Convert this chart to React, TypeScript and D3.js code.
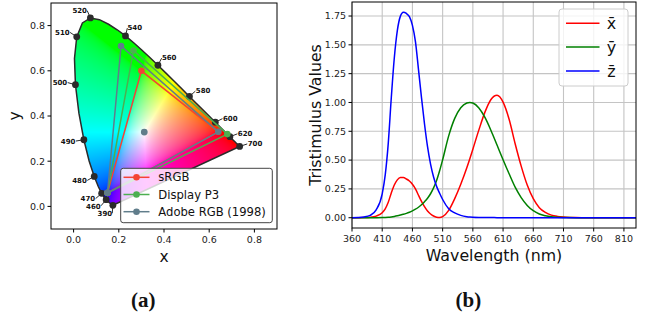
import React, { useEffect, useState } from 'react';
import * as d3 from 'd3';

// CIE 1931 2 deg spectral locus, chromaticity coordinates
const locusNm = [380, 385, 390, 395, 400, 405, 410, 415, 420, 425, 430, 435, 440, 445, 450, 455, 460, 465, 470, 475, 480, 485, 490, 495, 500, 505, 510, 515, 520, 525, 530, 535, 540, 545, 550, 555, 560, 565, 570, 575, 580, 585, 590, 595, 600, 605, 610, 615, 620, 625, 630, 635, 640, 645, 650, 655, 660, 665, 670, 675, 680, 685, 690, 695, 700];
const locusX = [0.1741, 0.1740, 0.1738, 0.1736, 0.1733, 0.1730, 0.1726, 0.1721, 0.1714, 0.1703, 0.1689, 0.1669, 0.1644, 0.1611, 0.1566, 0.1510, 0.1440, 0.1355, 0.1241, 0.1096, 0.0913, 0.0687, 0.0454, 0.0235, 0.0082, 0.0039, 0.0139, 0.0389, 0.0743, 0.1142, 0.1547, 0.1929, 0.2296, 0.2658, 0.3016, 0.3373, 0.3731, 0.4087, 0.4441, 0.4788, 0.5125, 0.5448, 0.5752, 0.6029, 0.6270, 0.6482, 0.6658, 0.6801, 0.6915, 0.7006, 0.7079, 0.7140, 0.7190, 0.7230, 0.7260, 0.7283, 0.7300, 0.7311, 0.7320, 0.7327, 0.7334, 0.7340, 0.7344, 0.7346, 0.7347];
const locusY = [0.0050, 0.0050, 0.0049, 0.0049, 0.0048, 0.0048, 0.0048, 0.0048, 0.0051, 0.0058, 0.0069, 0.0086, 0.0109, 0.0138, 0.0177, 0.0227, 0.0297, 0.0399, 0.0578, 0.0868, 0.1327, 0.2007, 0.2950, 0.4127, 0.5384, 0.6548, 0.7502, 0.8120, 0.8338, 0.8262, 0.8059, 0.7816, 0.7543, 0.7243, 0.6923, 0.6589, 0.6245, 0.5896, 0.5547, 0.5202, 0.4866, 0.4544, 0.4242, 0.3965, 0.3725, 0.3514, 0.3340, 0.3197, 0.3083, 0.2993, 0.2920, 0.2859, 0.2809, 0.2770, 0.2740, 0.2717, 0.2700, 0.2689, 0.2680, 0.2673, 0.2666, 0.2660, 0.2656, 0.2654, 0.2653];
const labelNm = [390, 460, 470, 480, 490, 500, 510, 520, 540, 560, 580, 600, 620, 700];

const gamutNames = ['sRGB', 'Display P3', 'Adobe RGB (1998)'];
const gamutColors = ['#f44336', '#4caf50', '#607d8b'];
const gamutX = [[0.64, 0.30, 0.15], [0.68, 0.265, 0.15], [0.64, 0.21, 0.15]];
const gamutY = [[0.33, 0.60, 0.06], [0.32, 0.69, 0.06], [0.33, 0.71, 0.06]];
const whitePoint = [0.3127, 0.329];
const xyTicks = [0, 0.2, 0.4, 0.6, 0.8];

// CIE 1931 colour matching functions
const cmfNm = [360, 370, 380, 390, 400, 410, 415, 420, 425, 430, 435, 440, 445, 450, 455, 460, 465, 470, 475, 480, 485, 490, 495, 500, 505, 510, 520, 530, 540, 550, 555, 560, 570, 580, 590, 600, 610, 620, 630, 640, 650, 660, 670, 680, 690, 700, 710, 720, 730, 740, 750, 760, 770, 780, 790, 800, 810, 820, 830];
const xBar = [0.00013, 0.000415, 0.001368, 0.004243, 0.01431, 0.04351, 0.07763, 0.13438, 0.21477, 0.2839, 0.3285, 0.34828, 0.34806, 0.3362, 0.3187, 0.2908, 0.2511, 0.19536, 0.1421, 0.09564, 0.05795, 0.03201, 0.0147, 0.0049, 0.0024, 0.0093, 0.06327, 0.1655, 0.2904, 0.43345, 0.51205, 0.5945, 0.7621, 0.9163, 1.0263, 1.0622, 1.0026, 0.85445, 0.6424, 0.4479, 0.2835, 0.1649, 0.0874, 0.04677, 0.0227, 0.011359, 0.00579, 0.002899, 0.00144, 0.00069, 0.000332, 0.000166, 0.000083, 0.000042, 0.000021, 0.00001, 0.000005, 0.0000025, 0.0000013];
const yBar = [0.000004, 0.000012, 0.000039, 0.00012, 0.000396, 0.00121, 0.00218, 0.004, 0.0073, 0.0116, 0.01684, 0.023, 0.0298, 0.038, 0.048, 0.06, 0.0739, 0.09098, 0.1126, 0.13902, 0.1693, 0.20802, 0.2586, 0.323, 0.4073, 0.503, 0.71, 0.862, 0.954, 0.99495, 1.0, 0.995, 0.952, 0.87, 0.757, 0.631, 0.503, 0.381, 0.265, 0.175, 0.107, 0.061, 0.032, 0.017, 0.00821, 0.004102, 0.002091, 0.001047, 0.00052, 0.000249, 0.00012, 0.00006, 0.00003, 0.000015, 0.0000075, 0.0000037, 0.0000018, 0.0000009, 0.0000005];
const zBar = [0.000606, 0.001946, 0.00645, 0.02005, 0.06785, 0.2074, 0.3713, 0.6456, 1.03905, 1.3856, 1.62296, 1.74706, 1.7826, 1.77211, 1.7441, 1.6692, 1.5281, 1.28764, 1.0419, 0.81295, 0.6162, 0.46518, 0.3533, 0.272, 0.2123, 0.1582, 0.07825, 0.04216, 0.0203, 0.00875, 0.00575, 0.0039, 0.0021, 0.00165, 0.0011, 0.0008, 0.00034, 0.00019, 0.00005, 0.00002, 0, 0, 0, 0, 0, 0, 0, 0, 0, 0, 0, 0, 0, 0, 0, 0, 0, 0, 0];
const cmfNames = ['x\u0304', 'y\u0304', 'z\u0304'];
const cmfColors = ['#ff0000', '#008000', '#0000ff'];
const wlTicks = [360, 410, 460, 510, 560, 610, 660, 710, 760, 810];
const cmfTicks = [0, 0.25, 0.5, 0.75, 1.0, 1.25, 1.5, 1.75];

const FONT = 'DejaVu Sans, sans-serif';

// left axes (equal aspect)
const xS = d3.scaleLinear().domain([-0.1, 0.9]).range([51, 277]);
const yS = d3.scaleLinear().domain([-0.1, 0.9]).range([229, 3]);
// right axes
const xR = d3.scaleLinear().domain([360, 830]).range([352, 636]);
const yR = d3.scaleLinear().domain([-0.0891, 1.8717]).range([228, 2]);

const srgbEncode = (v: number) => (v <= 0.0031308 ? 12.92 * v : 1.055 * Math.pow(v, 1 / 2.4) - 0.055);

function useChromaFill() {
  const [url, setUrl] = useState<string | null>(null);
  useEffect(() => {
    const [x0, x1] = xS.range();
    const [y1, y0] = yS.range();
    const w = Math.round(x1 - x0), h = Math.round(y1 - y0);
    const c = document.createElement('canvas');
    c.width = w; c.height = h;
    const ctx = c.getContext('2d');
    if (!ctx) return;
    const img = ctx.createImageData(w, h);
    for (let j = 0; j < h; j++) {
      for (let i = 0; i < w; i++) {
        const x = xS.invert(x0 + i + 0.5);
        const y = yS.invert(y0 + j + 0.5);
        if (y <= 0.0005) continue;
        const X = x / y, Y = 1, Z = (1 - x - y) / y;
        let r = 3.2406 * X - 1.5372 * Y - 0.4986 * Z;
        let g = -0.9689 * X + 1.8758 * Y + 0.0415 * Z;
        let b = 0.0557 * X - 0.204 * Y + 1.057 * Z;
        const m = Math.max(r, g, b);
        r = Math.max(0, r / m); g = Math.max(0, g / m); b = Math.max(0, b / m);
        const k = (j * w + i) * 4;
        img.data[k] = Math.round(255 * srgbEncode(r));
        img.data[k + 1] = Math.round(255 * srgbEncode(g));
        img.data[k + 2] = Math.round(255 * srgbEncode(b));
        img.data[k + 3] = 255;
      }
    }
    ctx.putImageData(img, 0, 0);
    setUrl(c.toDataURL());
  }, []);
  return url;
}

const Chromaticity = () => {
  const fill = useChromaFill();
  const pts: [number, number][] = locusNm.map((_, i) => [xS(locusX[i]), yS(locusY[i])]);
  const outline = d3.line()(pts) + 'Z';
  const wp: [number, number] = [xS(whitePoint[0]), yS(whitePoint[1])];

  const labels = labelNm.map(nm => {
    const i = locusNm.indexOf(nm);
    const p = pts[i];
    const a = pts[Math.max(0, i - 2)], b = pts[Math.min(pts.length - 1, i + 2)];
    const tx = b[0] - a[0], ty = b[1] - a[1];
    let nx = ty, ny = -tx;
    const rx = p[0] - wp[0], ry = p[1] - wp[1];
    if (nx * rx + ny * ry < 0) { nx = -nx; ny = -ny; }
    const nl = Math.hypot(nx, ny) || 1, rl = Math.hypot(rx, ry);
    let dx = nx / nl + rx / rl, dy = ny / nl + ry / rl;
    const dl = Math.hypot(dx, dy);
    dx /= dl; dy /= dl;
    return { nm, p, dx, dy };
  });

  const [fx0, fx1] = xS.range();
  const [fy1, fy0] = yS.range();

  return (
    <g>
      <defs>
        <clipPath id="locusClip"><path d={outline} /></clipPath>
      </defs>
      {fill && (
        <image href={fill} x={fx0} y={fy0} width={fx1 - fx0} height={fy1 - fy0}
          clipPath="url(#locusClip)" preserveAspectRatio="none" />
      )}
      <path d={outline} fill="none" stroke="#2b2b2b" strokeWidth={1.5} />
      {labels.map(l => (
        <g key={l.nm}>
          <line x1={l.p[0]} y1={l.p[1]} x2={l.p[0] + l.dx * 8} y2={l.p[1] + l.dy * 8} stroke="#2b2b2b" strokeWidth={1} />
          <circle cx={l.p[0]} cy={l.p[1]} r={3.4} fill="#2b2b2b" />
          <text x={l.p[0] + l.dx * 8.5} y={l.p[1] + l.dy * 8.5} dy="0.35em"
            textAnchor={l.dx < 0 ? 'end' : 'start'} fontSize={7} fontWeight="bold" fontFamily={FONT} fill="#111">{l.nm}</text>
        </g>
      ))}
      {gamutNames.map((name, gi) => {
        const tri: [number, number][] = gamutX[gi].map((x, k) => [xS(x), yS(gamutY[gi][k])]);
        return (
          <g key={name}>
            <path d={d3.line()(tri) + 'Z'} fill="none" stroke={gamutColors[gi]} strokeWidth={1.5} />
            {tri.map((p, k) => <circle key={k} cx={p[0]} cy={p[1]} r={3.3} fill={gamutColors[gi]} />)}
          </g>
        );
      })}
      <circle cx={wp[0]} cy={wp[1]} r={3.4} fill={gamutColors[2]} />
      <rect x={fx0} y={fy0} width={fx1 - fx0} height={fy1 - fy0} fill="none" stroke="#000" strokeWidth={1} />
      {xyTicks.map(t => (
        <g key={'x' + t}>
          <line x1={xS(t)} x2={xS(t)} y1={fy1} y2={fy1 + 3.5} stroke="#000" />
          <text x={xS(t)} y={fy1 + 11} dy="0.35em" textAnchor="middle" fontSize={9.5} fontFamily={FONT} fill="#222">{t.toFixed(1)}</text>
        </g>
      ))}
      {xyTicks.map(t => (
        <g key={'y' + t}>
          <line x1={fx0 - 3.5} x2={fx0} y1={yS(t)} y2={yS(t)} stroke="#000" />
          <text x={fx0 - 6} y={yS(t)} dy="0.35em" textAnchor="end" fontSize={9.5} fontFamily={FONT} fill="#222">{t.toFixed(1)}</text>
        </g>
      ))}
      <text x={(fx0 + fx1) / 2} y={262} textAnchor="middle" fontSize={15.5} fontFamily={FONT} fill="#111">x</text>
      <text transform={`translate(20,${(fy0 + fy1) / 2}) rotate(-90)`} textAnchor="middle" fontSize={15.5} fontFamily={FONT} fill="#111">y</text>
      <g>
        <rect x={120.7} y={168.3} width={151.6} height={54.4} rx={2.5} fill="white" fillOpacity={0.8} stroke="#444" strokeWidth={1} />
        {gamutNames.map((name, gi) => {
          const cy = 177.3 + gi * 17.2;
          return (
            <g key={name}>
              <line x1={123.5} x2={149.5} y1={cy} y2={cy} stroke={gamutColors[gi]} strokeWidth={1.5} />
              <circle cx={136.5} cy={cy} r={3.3} fill={gamutColors[gi]} />
              <text x={158.3} y={cy} dy="0.35em" fontSize={11.6} fontFamily={FONT} fill="#111">{name}</text>
            </g>
          );
        })}
      </g>
    </g>
  );
};

const CMFPlot = () => {
  const series = [xBar, yBar, zBar];
  const line = d3.line<number>().x((_, i) => xR(cmfNm[i])).y(d => yR(d)).curve(d3.curveMonotoneX);
  const [fx0, fx1] = xR.range();
  const [fy1, fy0] = yR.range();
  return (
    <g>
      <defs>
        <clipPath id="cmfClip"><rect x={fx0} y={fy0} width={fx1 - fx0} height={fy1 - fy0} /></clipPath>
      </defs>
      {wlTicks.map(t => <line key={'gx' + t} x1={xR(t)} x2={xR(t)} y1={fy0} y2={fy1} stroke="#c4c4c4" strokeWidth={1.1} />)}
      {cmfTicks.map(t => <line key={'gy' + t} x1={fx0} x2={fx1} y1={yR(t)} y2={yR(t)} stroke="#c4c4c4" strokeWidth={1.1} />)}
      <g clipPath="url(#cmfClip)">
        {series.map((s, si) => (
          <path key={si} d={line(s) || ''} fill="none" stroke={cmfColors[si]} strokeWidth={1.5} />
        ))}
      </g>
      <rect x={fx0} y={fy0} width={fx1 - fx0} height={fy1 - fy0} fill="none" stroke="#000" strokeWidth={1} />
      {wlTicks.map(t => (
        <g key={'x' + t}>
          <line x1={xR(t)} x2={xR(t)} y1={fy1} y2={fy1 + 3.5} stroke="#000" />
          <text x={xR(t)} y={fy1 + 11} dy="0.35em" textAnchor="middle" fontSize={9.5} fontFamily={FONT} fill="#222">{t}</text>
        </g>
      ))}
      {cmfTicks.map(t => (
        <g key={'y' + t}>
          <line x1={fx0 - 3.5} x2={fx0} y1={yR(t)} y2={yR(t)} stroke="#000" />
          <text x={fx0 - 6} y={yR(t)} dy="0.35em" textAnchor="end" fontSize={9.5} fontFamily={FONT} fill="#222">{t.toFixed(2)}</text>
        </g>
      ))}
      <text x={(fx0 + fx1) / 2} y={261} textAnchor="middle" fontSize={15.8} fontFamily={FONT} fill="#111">Wavelength (nm)</text>
      <text transform={`translate(315,${(fy0 + fy1) / 2}) rotate(-90)`} dy="0.35em" textAnchor="middle" fontSize={15.8} fontFamily={FONT} fill="#111">Tristimulus Values</text>
      <g>
        <rect x={559} y={9} width={69} height={77} rx={3} fill="white" fillOpacity={0.8} stroke="#cccccc" strokeWidth={1} />
        {cmfNames.map((name, si) => {
          const cy = 23.3 + si * 23.8;
          return (
            <g key={si}>
              <line x1={566} x2={599.5} y1={cy} y2={cy} stroke={cmfColors[si]} strokeWidth={1.5} />
              <text x={611.5} y={cy} dy="0.35em" textAnchor="middle" fontSize={16} fontFamily={FONT} fill="#111">{name}</text>
            </g>
          );
        })}
      </g>
    </g>
  );
};

export default function App() {
  return (
    <div>
      <style>{'body{margin:0}'}</style>
      <svg width={650} height={321} style={{ display: 'block', background: '#fff' }}>
        <Chromaticity />
        <CMFPlot />
        <text x={143.3} y={307} textAnchor="middle" fontSize={21} fontWeight="bold" fontFamily="Liberation Serif, serif" fill="#111">(a)</text>
        <text x={468.3} y={307} textAnchor="middle" fontSize={21} fontWeight="bold" fontFamily="Liberation Serif, serif" fill="#111">(b)</text>
      </svg>
    </div>
  );
}
